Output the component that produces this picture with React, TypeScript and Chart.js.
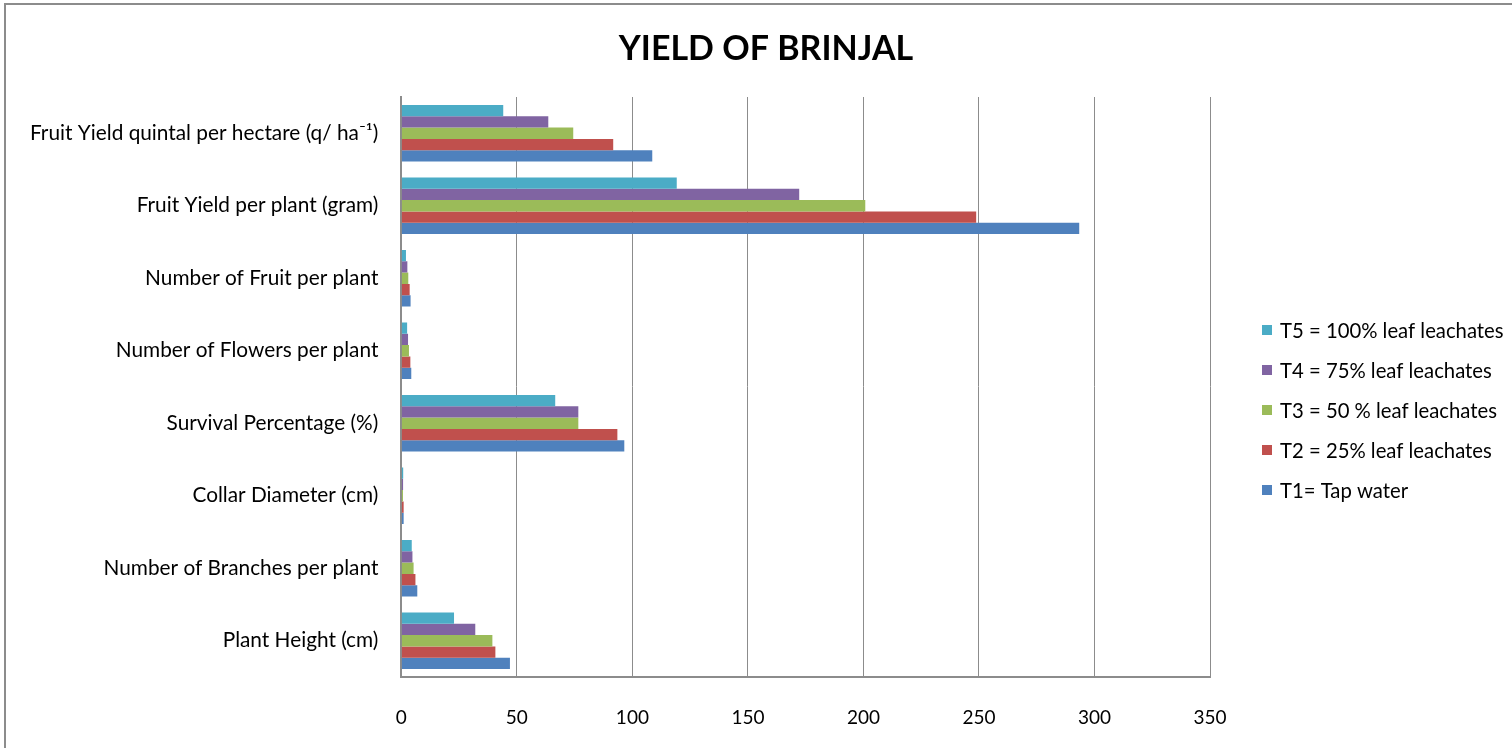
import React, { useEffect, useRef } from "react";
import { Chart, registerables } from "chart.js";

Chart.register(...registerables);

const categories = [
  "Fruit Yield quintal per hectare (q/ ha\u207B\u00B9)",
  "Fruit Yield per plant (gram)",
  "Number of Fruit per plant",
  "Number of Flowers per plant",
  "Survival Percentage (%)",
  "Collar Diameter (cm)",
  "Number of Branches per plant",
  "Plant Height (cm)",
];

const seriesNames = [
  "T5 = 100% leaf leachates",
  "T4 = 75% leaf leachates",
  "T3 = 50 % leaf leachates",
  "T2 = 25% leaf leachates",
  "T1= Tap water",
];

const t5Values = [44.1, 119.2, 2.0, 2.5, 66.6, 0.8, 4.5, 22.8];
const t4Values = [63.6, 172.2, 2.6, 2.9, 76.6, 0.75, 4.8, 32.0];
const t3Values = [74.4, 200.8, 3.0, 3.3, 76.6, 0.7, 5.3, 39.4];
const t2Values = [91.7, 248.8, 3.6, 3.9, 93.5, 1.0, 6.1, 40.7];
const t1Values = [108.6, 293.4, 4.0, 4.3, 96.5, 1.0, 6.9, 47.0];

const xTicks = [0, 50, 100, 150, 200, 250, 300, 350];

const chartTitle = "YIELD OF BRINJAL";

const seriesColors = ["#4BACC6", "#8064A2", "#9BBB59", "#C0504D", "#4F81BD"];

const FONT = "Lato, 'Open Sans', 'DejaVu Sans', sans-serif";

const customLegend = {
  id: "customLegend",
  afterDraw(chart: any) {
    const { ctx, chartArea } = chart;
    const cy = (chartArea.top + chartArea.bottom) / 2 + 23;
    const boxX = chartArea.right + 52;
    ctx.save();
    ctx.font = `20.3px ${FONT}`;
    ctx.textBaseline = "middle";
    ctx.textAlign = "left";
    chart.data.datasets.forEach((ds: any, i: number) => {
      const y = cy + (i - 2) * 40;
      ctx.fillStyle = ds.backgroundColor;
      ctx.fillRect(boxX, y - 5, 10, 10);
      ctx.fillStyle = "#000";
      ctx.fillText(ds.label, boxX + 18, y + 1);
    });
    ctx.restore();
  },
};

const centeredTitle = {
  id: "centeredTitle",
  afterDraw(chart: any) {
    const { ctx, width } = chart;
    ctx.save();
    ctx.font = `bold 34px ${FONT}`;
    ctx.textAlign = "center";
    ctx.textBaseline = "alphabetic";
    ctx.fillStyle = "#000";
    ctx.fillText(chartTitle, width / 2 + 10, 60);
    ctx.restore();
  },
};

export default function App() {
  const canvasRef = useRef<HTMLCanvasElement | null>(null);

  useEffect(() => {
    document.body.style.margin = "0";
    const valueSets = [t5Values, t4Values, t3Values, t2Values, t1Values];
    const chart = new Chart(canvasRef.current as HTMLCanvasElement, {
      type: "bar",
      data: {
        labels: categories,
        datasets: seriesNames.map((name, i) => ({
          label: name,
          data: valueSets[i],
          backgroundColor: seriesColors[i],
          borderWidth: 0,
          categoryPercentage: 0.78,
          barPercentage: 1.0,
        })),
      },
      options: {
        indexAxis: "y",
        animation: false,
        responsive: true,
        maintainAspectRatio: false,
        layout: { padding: { left: 7, right: 302, top: 97, bottom: 0 } },
        plugins: {
          legend: { display: false },
          tooltip: { enabled: false },
          title: { display: false },
        },
        scales: {
          x: {
            type: "linear",
            min: 0,
            max: 350,
            afterBuildTicks: (axis: any) => {
              axis.ticks = xTicks.map((v) => ({ value: v }));
            },
            afterFit: (axis: any) => {
              axis.height = 71;
            },
            grid: {
              color: "#8c8c8c",
              lineWidth: 1,
              drawTicks: false,
            },
            border: { display: true, color: "#8c8c8c", width: 2 },
            ticks: {
              color: "#000",
              padding: 29,
              font: { family: FONT, size: 19 },
            },
          },
          y: {
            grid: { display: false, drawTicks: false },
            border: { display: true, color: "#8c8c8c", width: 2 },
            ticks: {
              color: "#000",
              padding: 23,
              font: { family: FONT, size: 20.8 },
            },
          },
        },
      },
      plugins: [customLegend, centeredTitle],
    });
    return () => chart.destroy();
  }, []);

  return (
    <div style={{ position: "relative", width: 1512, height: 748, overflow: "hidden", background: "#fff" }}>
      <div
        style={{
          position: "absolute",
          left: 4,
          top: 3,
          width: 1600,
          height: 900,
          borderLeft: "2px solid #8c8c8c",
          borderTop: "2px solid #8c8c8c",
        }}
      />
      <div style={{ position: "absolute", left: 0, top: 0, width: 1512, height: 748 }}>
        <canvas ref={canvasRef} />
      </div>
    </div>
  );
}
